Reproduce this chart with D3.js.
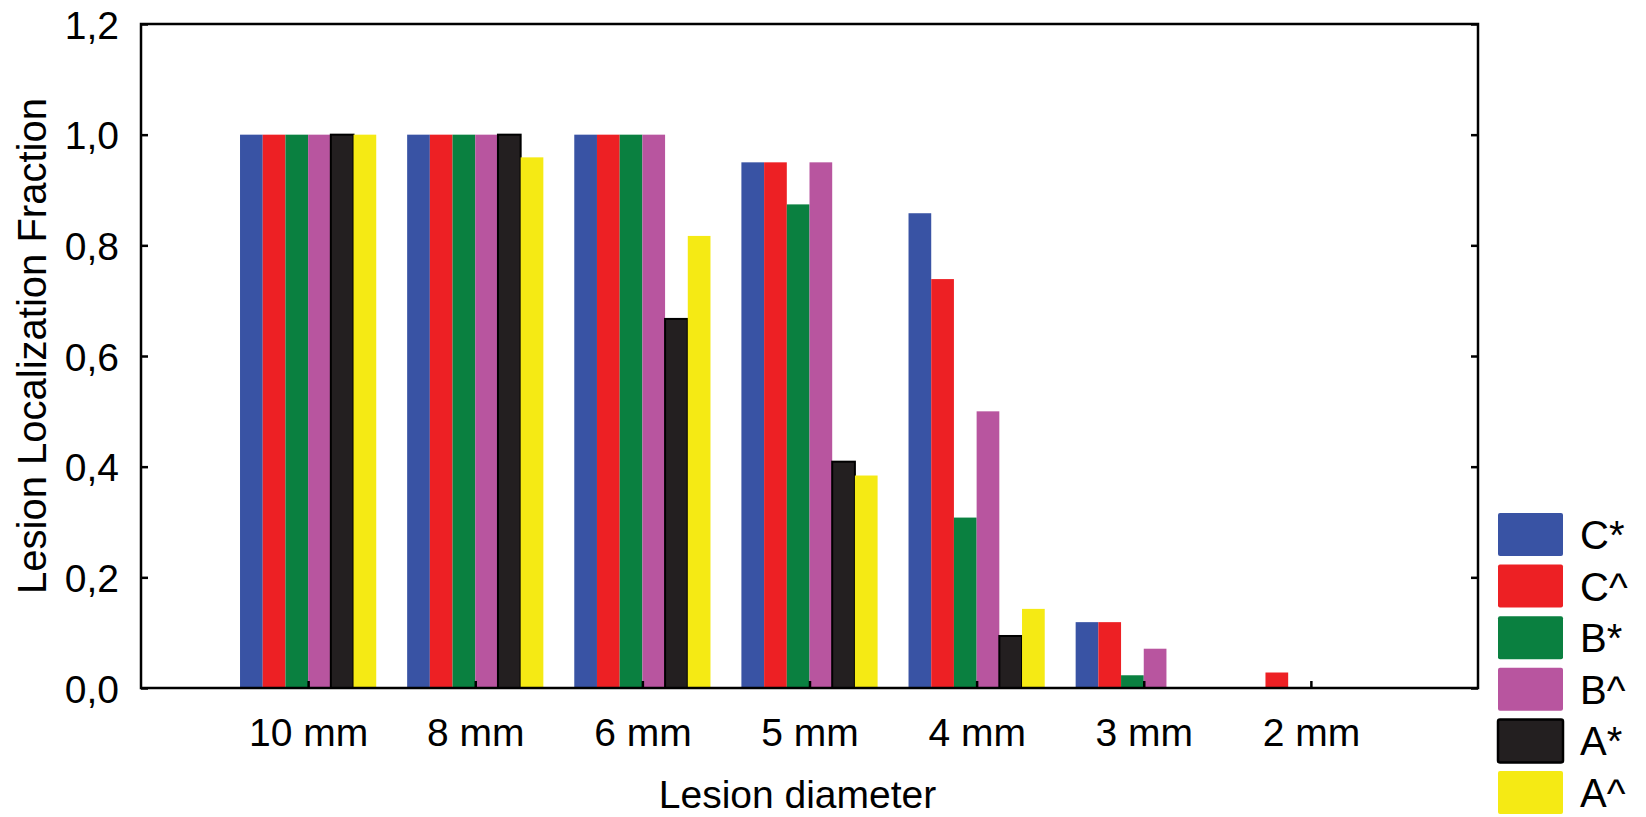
<!DOCTYPE html>
<html>
<head>
<meta charset="utf-8">
<script src="https://cdn.jsdelivr.net/npm/d3@7"></script>
<style>
body { margin: 0; background: #fff; }
text { font-family: "Liberation Sans", Arial, sans-serif; fill: #000; }
</style>
</head>
<body>
<div id="chart"></div>
<script>
// data
var categories = ["10 mm", "8 mm", "6 mm", "5 mm", "4 mm", "3 mm", "2 mm"];
var seriesNames = ["C*", "C^", "B*", "B^", "A*", "A^"];
var seriesColors = ["#3953a4", "#ed2024", "#0a8040", "#b8559f", "#231f20", "#f5ea14"];
var valsCstar = [1.0, 1.0, 1.0, 0.95, 0.858, 0.119, 0.0];
var valsChat = [1.0, 1.0, 1.0, 0.95, 0.739, 0.119, 0.028];
var valsBstar = [1.0, 1.0, 1.0, 0.874, 0.308, 0.023, 0.0];
var valsBhat = [1.0, 1.0, 1.0, 0.95, 0.5, 0.071, 0.0];
var valsAstar = [1.0, 1.0, 0.667, 0.409, 0.094, 0.0, 0.0];
var valsAhat = [1.0, 0.959, 0.817, 0.384, 0.143, 0.0, 0.0];
var yTicks = [0, 0.2, 0.4, 0.6, 0.8, 1.0, 1.2];

var seriesVals = [valsCstar, valsChat, valsBstar, valsBhat, valsAstar, valsAhat];

var svgwidth = 1646;
var svgheight = 817;
var margin = {top: 24, left: 141, right: 168, bottom: 129};
var width = svgwidth - margin.left - margin.right;
var height = svgheight - margin.top - margin.bottom;

var svg = d3.select("#chart").append("svg").attr("width", svgwidth).attr("height", svgheight);
var chartgp = svg.append("g").attr("transform", `translate(${margin.left}, ${margin.top})`);

var xscale = d3.scalePoint().domain(categories).range([0, width]).padding(1);
var groupW = xscale.step() * 0.815;
var xinner = d3.scaleBand().domain(seriesNames).range([-groupW / 2, groupW / 2]);
var yscale = d3.scaleLinear().domain([0, 1.2]).range([height, 0]);

// bars
seriesNames.forEach(function(name, si) {
    var rows = categories.map(function(c, ci) { return {cat: c, v: seriesVals[si][ci]}; });
    chartgp.append("g").selectAll("rect").data(rows).enter().append("rect")
        .attr("x", d => xscale(d.cat) + xinner(name))
        .attr("y", d => yscale(d.v))
        .attr("width", xinner.bandwidth())
        .attr("height", d => Math.max(0, height - yscale(d.v)))
        .attr("fill", seriesColors[si])
        .attr("stroke", name == "A*" ? "#000" : "none")
        .attr("stroke-width", name == "A*" ? 2 : 0);
});

// frame and ticks
var axisleft = d3.axisLeft(yscale).tickValues(yTicks).tickSize(-7).tickPadding(22).tickFormat(d => d3.format(".1f")(d).replace(".", ","));
var axisright = d3.axisRight(yscale).tickValues(yTicks).tickSize(-7).tickFormat("");
var axisbottom = d3.axisBottom(xscale).tickSize(-7).tickPadding(42);

var gl = chartgp.append("g").call(axisleft);
var gr = chartgp.append("g").attr("transform", `translate(${width}, 0)`).call(axisright);
var gb = chartgp.append("g").attr("transform", `translate(0, ${height})`).call(axisbottom);
[gl, gr, gb].forEach(function(g) {
    g.select(".domain").remove();
    g.selectAll(".tick line").attr("stroke", "#000").attr("stroke-width", 2.5);
    g.selectAll(".tick text").attr("font-size", 39).attr("fill", "#000").style("font-family", "'Liberation Sans', Arial, sans-serif");
});
gl.selectAll(".tick text").attr("dy", "0.36em");
gb.selectAll(".tick text").attr("dy", "0.4em");

chartgp.append("rect").attr("x", 0).attr("y", 0).attr("width", width).attr("height", height)
    .attr("fill", "none").attr("stroke", "#000").attr("stroke-width", 2.5);

// axis titles
chartgp.append("text").attr("x", width / 2 - 12).attr("y", height + 120).attr("text-anchor", "middle")
    .attr("font-size", 39).text("Lesion diameter");
svg.append("text").attr("transform", "translate(46, 346) rotate(-90)").attr("text-anchor", "middle")
    .attr("font-size", 40).text("Lesion Localization Fraction");

// legend
var legend = svg.append("g").attr("transform", "translate(1498, 513)");
var items = legend.selectAll("g").data(seriesNames).enter().append("g")
    .attr("transform", (d, i) => `translate(0, ${i * 51.6})`);
items.append("rect").attr("width", 65).attr("height", 43).attr("rx", 2)
    .attr("fill", (d, i) => seriesColors[i])
    .attr("stroke", d => d == "A*" ? "#000" : "none").attr("stroke-width", 2.5);
items.append("text").attr("x", 82).attr("y", 36).attr("font-size", 40).text(d => d);
</script>
</body>
</html>
